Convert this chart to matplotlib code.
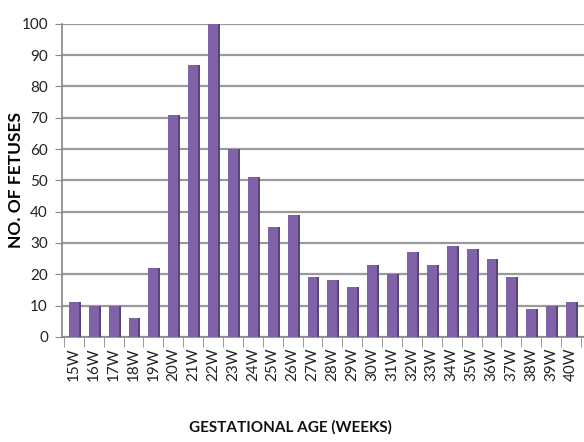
import matplotlib
matplotlib.use("Agg")
from matplotlib import pyplot as plt
import numpy as np

weeks = [f"{w}W" for w in range(15, 41)]
fetuses = [11, 10, 10, 6, 22, 71, 87, 100, 60, 51, 35, 39, 19,
           18, 16, 23, 20, 27, 23, 29, 28, 25, 19, 9, 10, 11]

face = "#8062a8"
side = "#5a4578"

plt.rcParams['font.family'] = ['Lato', 'DejaVu Sans']

fig = plt.figure(figsize=(5.84, 4.42), dpi=100)
ax = fig.add_axes([0.106, 0.238, 0.894, 0.708])

x = np.arange(len(weeks))
ax.bar(x, fetuses, width=0.5, color=face, zorder=3)
# darker right face for the bevelled look
ax.bar(x + 0.25, fetuses, width=0.1, align='edge', color=side, zorder=3)

ax.set_ylim(0, 100)
ax.set_xlim(-0.6, 25.65)
ax.set_yticks(range(0, 101, 10))
ax.yaxis.grid(True, color="#9a9a9a", linewidth=1.6, zorder=0)
ax.set_axisbelow(True)

ax.set_xticks(x)
ax.set_xticklabels(weeks, rotation=90, fontsize=11, color="#222222")
ax.set_xticks(np.arange(-0.5, 26, 1), minor=True)
ax.tick_params(axis='x', which='major', length=0, pad=8)
ax.tick_params(axis='x', which='minor', length=7, color="#888888")
ax.tick_params(axis='y', length=5, pad=5, color="#888888", labelsize=11, labelcolor="#222222")

for s in ['top', 'right']:
    ax.spines[s].set_visible(False)
ax.spines['left'].set_color("#888888")
ax.spines['bottom'].set_color("#888888")
ax.spines['left'].set_linewidth(1.2)
ax.spines['bottom'].set_linewidth(1.2)

ax.set_ylabel("NO. OF FETUSES", fontsize=12.5, fontweight='bold')
ax.yaxis.set_label_coords(-0.072, 0.5)
fig.text(0.497, 0.033, "GESTATIONAL AGE (WEEKS)", fontsize=11, fontweight='bold',
         ha='center', va='center', color="#111111")

fig.savefig("out.png", dpi=100)
